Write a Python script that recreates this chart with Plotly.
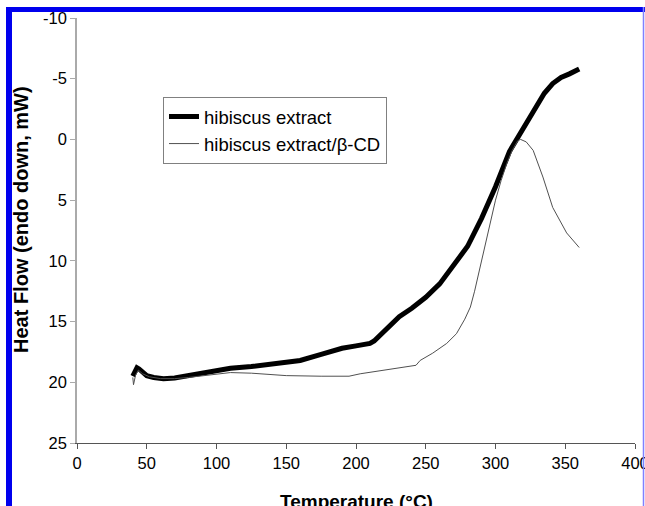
import plotly.graph_objects as go

# hibiscus extract (thick line)
temp_extract = [40, 41.5, 43, 44.5, 47, 50, 55, 62, 70, 78, 90, 100, 110, 125, 145, 160, 175,
                190, 200, 210, 213, 220, 231, 240, 250, 260, 270, 280, 290, 300, 310, 318,
                325, 330, 335, 341, 347, 353, 360]
heat_extract = [19.5, 19.0, 18.8, 18.9, 19.2, 19.45, 19.6, 19.7, 19.65, 19.5, 19.2, 19.05, 18.85,
                18.7, 18.45, 18.2, 17.7, 17.2, 17.0, 16.8, 16.6, 15.8, 14.6, 13.9, 13.0, 11.9,
                10.4, 8.8, 6.5, 3.9, 1.0, -0.6, -2.0, -3.0, -3.8, -4.6, -5.1, -5.4, -5.8]

# hibiscus extract/beta-CD (thin line)
temp_cd = [40, 40.5, 42, 44, 47, 52, 60, 70, 80, 90, 100, 110, 125, 150, 175, 195, 203, 215,
           231, 243, 246, 255, 265, 272, 278, 282, 285, 288, 291, 294, 297, 300, 304, 308,
           312, 316, 318, 322, 327, 334, 341, 351, 360]
heat_cd = [19.6, 20.2, 19.4, 19.0, 19.3, 19.55, 19.7, 19.7, 19.6, 19.45, 19.3, 19.2, 19.25,
           19.45, 19.5, 19.5, 19.3, 19.1, 18.8, 18.6, 18.2, 17.6, 16.8, 16.0, 14.8, 13.8,
           12.5, 11.0, 9.5, 8.0, 6.5, 5.0, 3.4, 2.0, 0.9, 0.1, 0.0, 0.2, 0.9, 3.1, 5.6, 7.7, 8.9]

x_ticks = [0, 50, 100, 150, 200, 250, 300, 350, 400]
y_ticks = [-10, -5, 0, 5, 10, 15, 20, 25]

FONT = "Liberation Sans, Arial, sans-serif"
W, H = 645, 506
L, R, T, B = 77, 10, 18, 63
pw, ph = W - L - R, H - T - B

def px(x):
    return (x - L) / pw

def py(y):
    return (H - B - y) / ph

fig = go.Figure()
fig.add_trace(go.Scatter(x=temp_extract, y=heat_extract, mode="lines",
                         name="hibiscus extract",
                         line=dict(color="black", width=5)))
fig.add_trace(go.Scatter(x=temp_cd, y=heat_cd, mode="lines",
                         name="hibiscus extract/β-CD",
                         line=dict(color="#505050", width=1)))

fig.update_layout(
    width=W, height=H,
    margin=dict(l=L, r=R, t=T, b=B, autoexpand=False),
    paper_bgcolor="white", plot_bgcolor="white",
    font=dict(family=FONT, size=16, color="black"),
    showlegend=True,
    legend=dict(x=px(163), y=py(97), xanchor="left", yanchor="top",
                bgcolor="white", bordercolor="#808080", borderwidth=1,
                font=dict(size=18.5), tracegroupgap=0),
    xaxis=dict(range=[0, 400], tickvals=x_ticks, ticktext=[str(v) for v in x_ticks],
               showgrid=False, zeroline=False, showline=True, linecolor="#555555",
               linewidth=1, ticks="outside", ticklen=5, tickcolor="#555555",
               tickfont=dict(size=16.5), fixedrange=True, automargin=False,
               ticklabeloverflow="allow"),
    yaxis=dict(range=[25, -10], tickvals=y_ticks, ticktext=[str(v) for v in y_ticks],
               showgrid=False, zeroline=False, showline=True, linecolor="#aaaaaa",
               linewidth=1.5, ticks="outside", ticklen=5, tickcolor="#aaaaaa",
               tickfont=dict(size=16.5), fixedrange=True, automargin=False,
               ticklabeloverflow="allow"),
)

fig.add_annotation(text="<b>Heat Flow (endo down, mW)</b>", textangle=-90,
                   xref="paper", yref="paper", x=px(21), y=py(220),
                   xanchor="center", yanchor="middle", showarrow=False,
                   font=dict(size=20, family=FONT))
fig.add_annotation(text="<b>Temperature (°C)</b>",
                   xref="paper", yref="paper", x=px(356), y=py(489),
                   xanchor="center", yanchor="top", showarrow=False,
                   font=dict(size=19, family=FONT))

# blue frame
fig.add_shape(type="rect", xref="paper", yref="paper", layer="above",
              x0=px(6), x1=px(12), y0=py(H + 5), y1=py(7),
              fillcolor="#0000ee", line=dict(width=0))
fig.add_shape(type="rect", xref="paper", yref="paper", layer="above",
              x0=px(6), x1=px(645), y0=py(12), y1=py(7),
              fillcolor="#0000ee", line=dict(width=0))
fig.add_shape(type="line", xref="paper", yref="paper", layer="above",
              x0=px(643.5), x1=px(643.5), y0=py(7), y1=py(H + 5),
              line=dict(color="#8080ff", width=1.5))

fig.write_html("out.html", config={"displayModeBar": False},
               post_script="document.body.style.margin='0';document.body.style.overflow='hidden';")
